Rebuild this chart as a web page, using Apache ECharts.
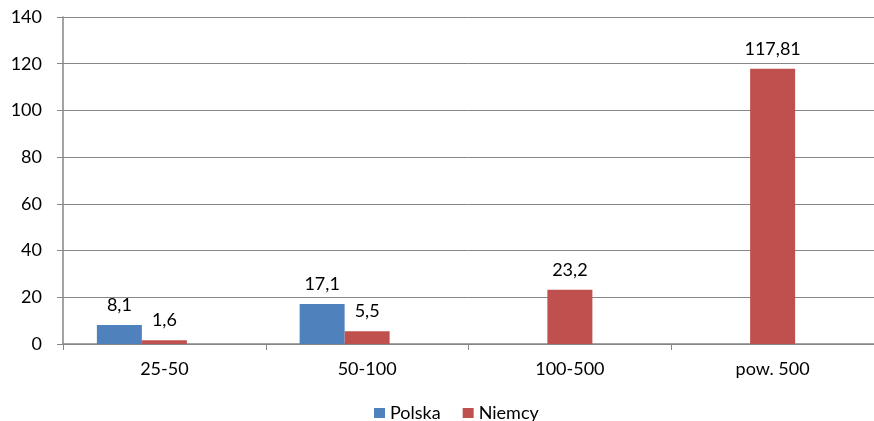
<!DOCTYPE html>
<html><head><meta charset="utf-8">
<script src="https://cdn.jsdelivr.net/npm/echarts@6/dist/echarts.min.js"></script>
<style>html,body{margin:0;padding:0;background:#fff}#c{width:874px;height:421px}</style>
</head><body><div id="c"></div>
<script>
const categories = ['25-50', '50-100', '100-500', 'pow. 500'];
const polska = [8.1, 17.1, null, null];
const niemcy = [1.6, 5.5, 23.2, 117.81];
const emptySeries = [null, null, null, null];
const yTicks = [0, 20, 40, 60, 80, 100, 120, 140];

const font = 'Lato, "Open Sans", sans-serif';
const fs = 18;
const fmt = p => (p.value == null ? '' : String(p.value).replace('.', ','));
const chart = echarts.init(document.getElementById('c'));
chart.setOption({
  animation: false,
  textStyle: { fontFamily: font },
  grid: { left: 63, top: 17, width: 816, height: 327, containLabel: false },
  legend: {
    data: ['Polska', 'Niemcy'], top: 397, left: 369, padding: 5,
    itemWidth: 11, itemHeight: 10, itemGap: 22, icon: 'rect',
    textStyle: { fontFamily: font, fontSize: fs, color: '#000', lineHeight: 22 }
  },
  xAxis: {
    type: 'category', data: categories,
    axisLine: { lineStyle: { color: '#868686', width: 1.5 } },
    axisTick: { show: true, length: 6, lineStyle: { color: '#868686' } },
    axisLabel: { color: '#000', fontSize: fs, fontFamily: font, margin: 16 }
  },
  yAxis: {
    type: 'value', min: yTicks[0], max: yTicks[yTicks.length - 1], interval: 20,
    axisLine: { show: true, lineStyle: { color: '#868686', width: 1.5 } },
    axisTick: { show: true, length: 6, lineStyle: { color: '#868686' } },
    splitLine: { lineStyle: { color: '#868686', width: 1 } },
    axisLabel: { color: '#000', fontSize: fs, fontFamily: font, margin: 21 }
  },
  series: [
    { name: 'Polska', type: 'bar', data: polska, barWidth: 45, barGap: '0%',
      itemStyle: { color: '#4f81bd' },
      label: { show: true, position: 'top', distance: 11, color: '#000', fontSize: fs, fontFamily: font, formatter: fmt } },
    { name: 'Niemcy', type: 'bar', data: niemcy, barWidth: 45, barGap: '0%',
      itemStyle: { color: '#c0504d' },
      label: { show: true, position: 'top', distance: 11, color: '#000', fontSize: fs, fontFamily: font, formatter: fmt } },
    { name: '', type: 'bar', data: emptySeries, barWidth: 45, barGap: '0%' }
  ]
});
</script></body></html>
